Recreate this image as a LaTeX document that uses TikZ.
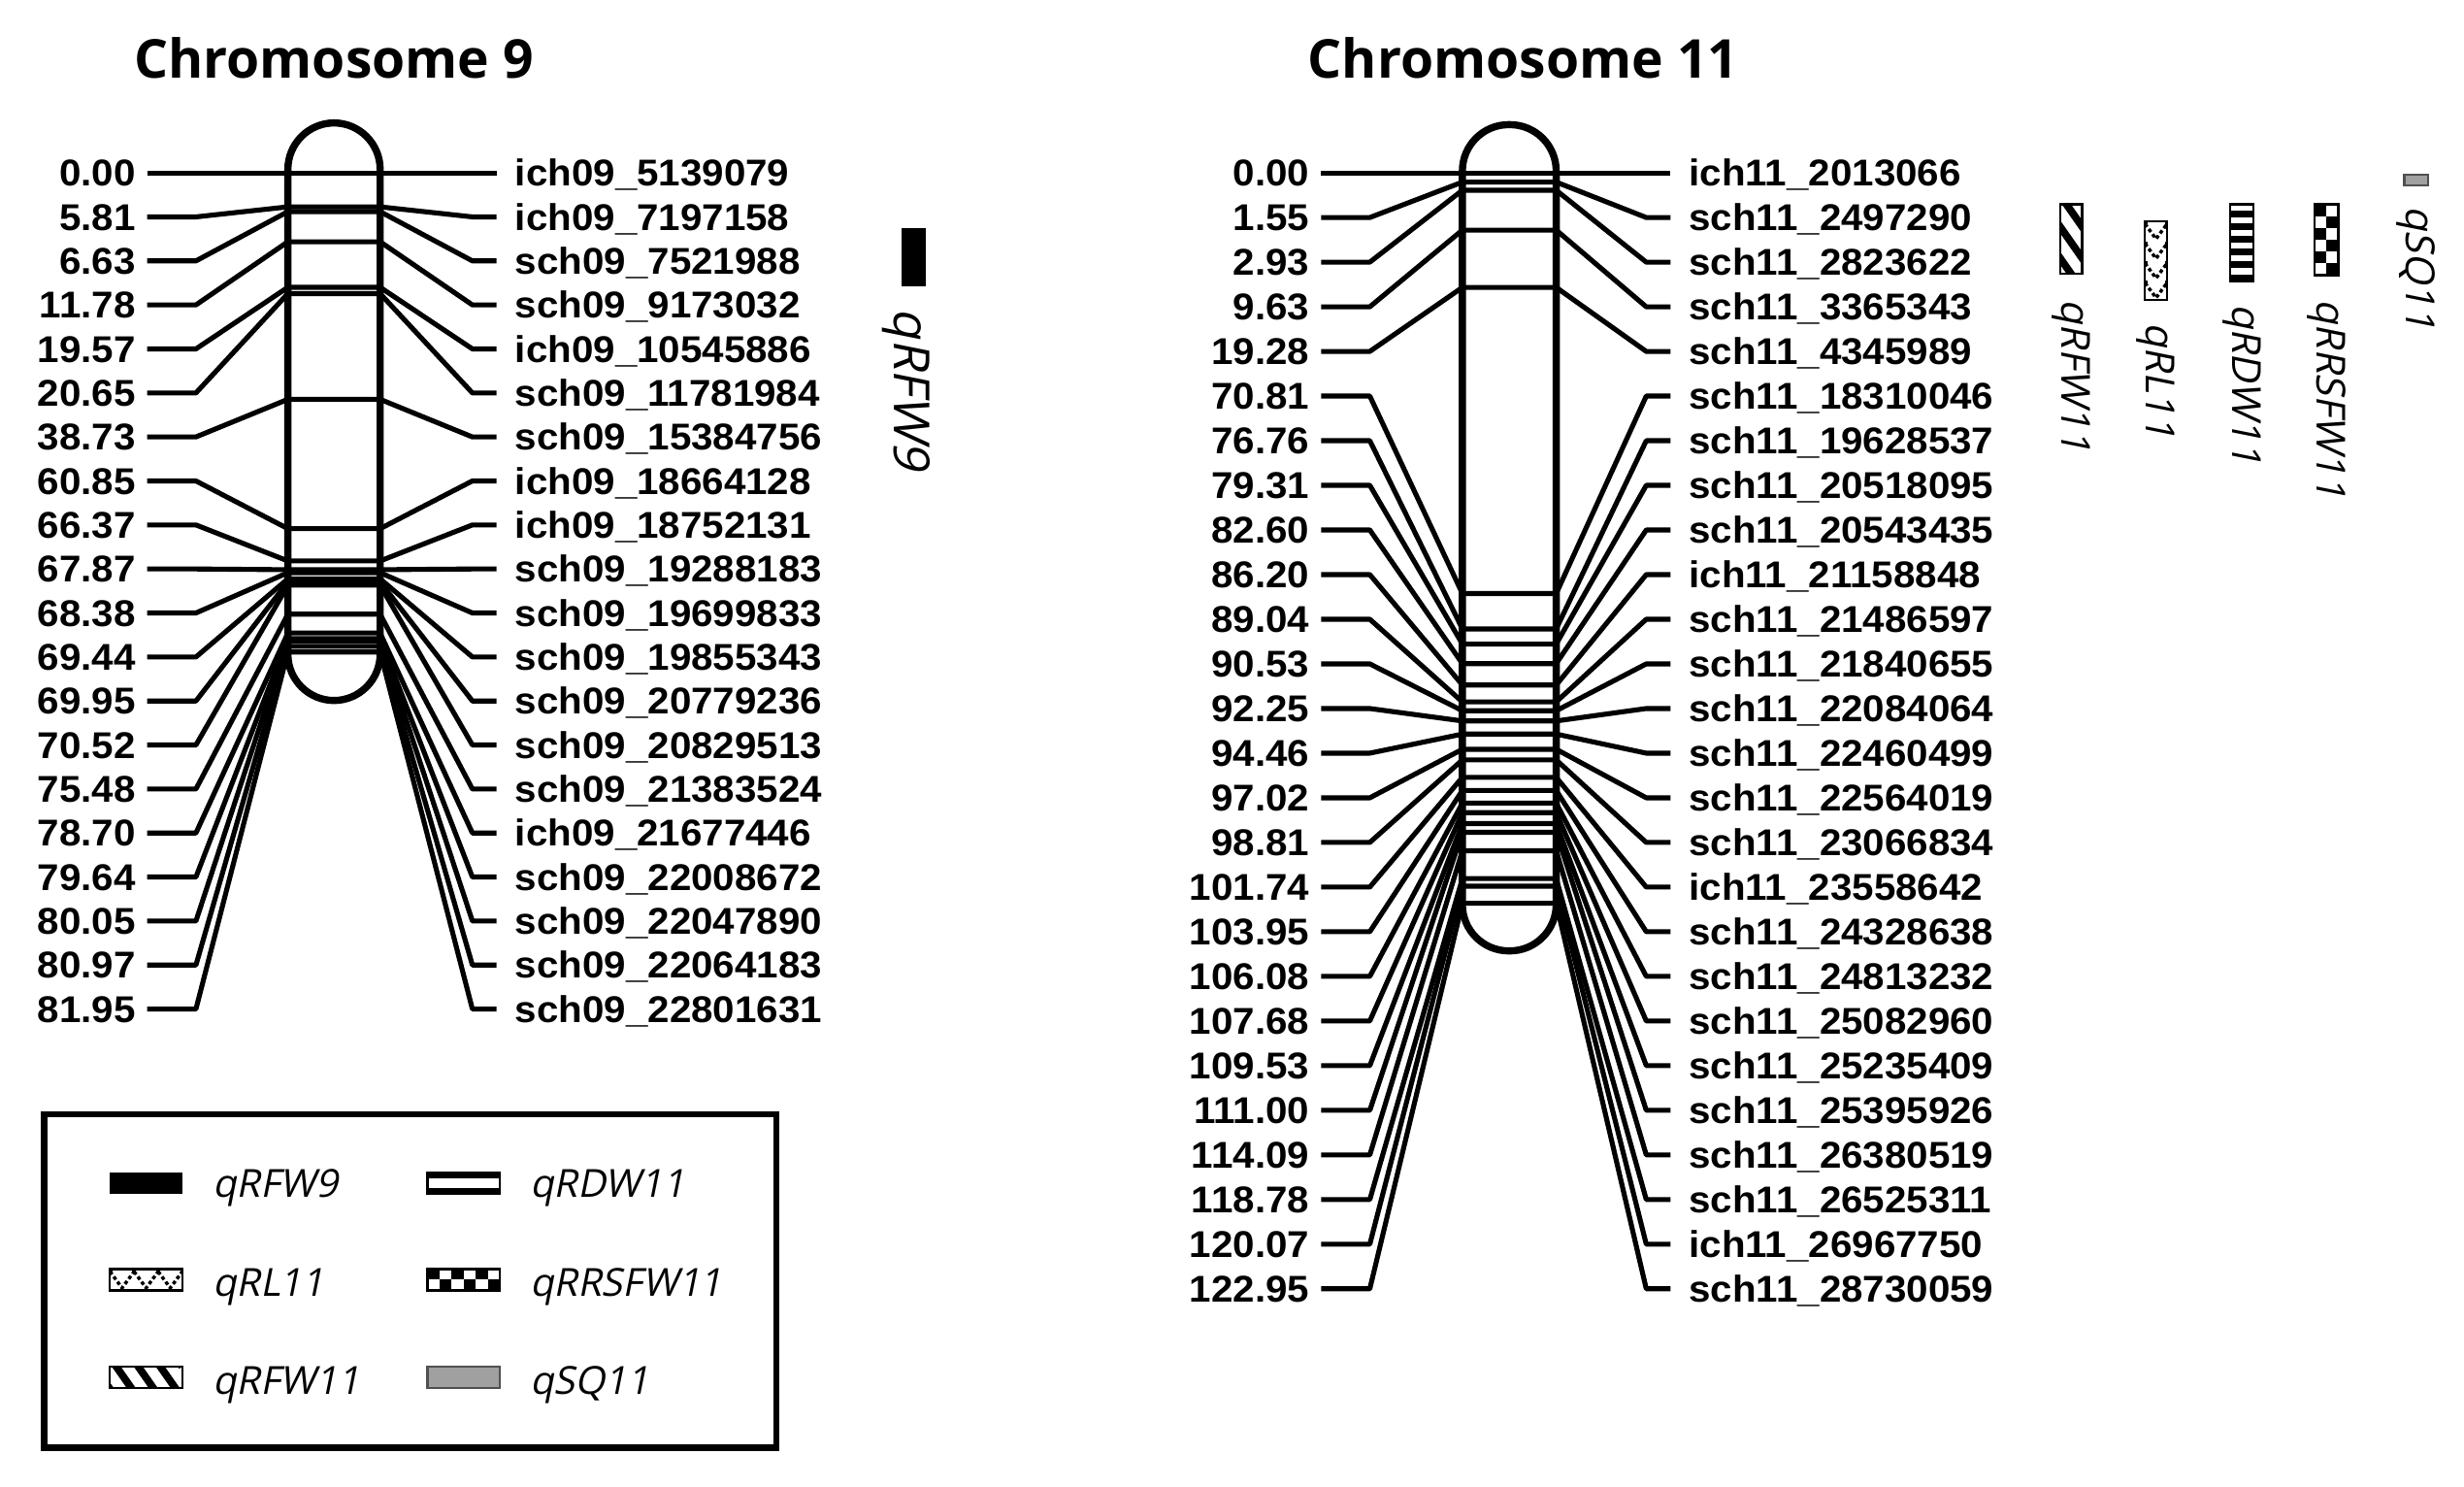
\documentclass[tikz,border=0pt]{standalone}
\usepackage{fontspec}
\newfontfamily\mkfont{Liberation Sans}[FakeStretch=1.05]
\newfontfamily\ttlfont{Open Sans}
\newfontfamily\qfont{Open Sans}[FakeSlant=0.2]
\definecolor{qgray}{RGB}{160,160,160}
\definecolor{qedge}{RGB}{80,80,80}
\tikzset{
 lnk/.style={line width=1.8pt, line join=round},
 chrom/.style={line width=2.6pt, rounded corners=0.59cm},
 num/.style={anchor=east, inner sep=0pt, font=\mkfont\bfseries\fontsize{13.5}{15}\selectfont, text height=9.67pt, text depth=0pt},
 mk/.style={num, anchor=west},
 ttl/.style={anchor=base west, inner sep=0pt, font=\ttlfont\bfseries\fontsize{19.4}{23}\selectfont},
 qlab/.style={rotate=-90, anchor=west, inner sep=0pt, font=\qfont\fontsize{14.5}{16}\selectfont},
 leglab/.style={anchor=base west, inner sep=0pt, font=\qfont\fontsize{14}{16}\selectfont},
 qbox/.style={draw=black, line width=0.8pt},
 legbox/.style={draw=black, line width=2.4pt},
 zig/.style={line width=1.2pt, dash pattern=on 1.3pt off 1pt},
}
\newcommand\qtlDiag[4]{%
  \begin{scope}
    \clip (#1,#2) rectangle (#3,#4);
    \foreach \k in {-6,...,4}{\draw[line width=2.7pt] ({#1-10},{#2+20*\k}) -- ++(56,80);}
  \end{scope}
  \draw[qbox] (#1,#2) rectangle (#3,#4);}
\newcommand\qtlCheck[6]{%
  \begin{scope}
    \clip (#1,#2) rectangle (#3,#4);
    \foreach \i in {0,...,7}{\foreach \j in {0,...,7}{%
      \pgfmathparse{int(mod(\i+\j,2))}%
      \ifnum\pgfmathresult=0 \fill ({#1+#5*\i},{#2+#6*\j}) rectangle ++(#5,#6);\fi}}
  \end{scope}
  \draw[qbox] (#1,#2) rectangle (#3,#4);}
\newcommand\qtlZig[6]{%
  \begin{scope}
    \clip (#1,#2) rectangle (#3,#4);
    \foreach \j in {0,...,4}{\foreach \i in {0,...,4}{%
      \draw[zig] ({#1+2*#5*\i},{#2+#6*\j+1.5}) -- ++(#5,{#6-3}) -- ++(#5,{-(#6-3)});
      \fill ({#1+2*#5*\i-1.4},{#2+#6*\j}) rectangle ++(2.8,2.8);}}
  \end{scope}
  \draw[qbox] (#1,#2) rectangle (#3,#4);}
\begin{document}
\begin{tikzpicture}[x=0.02cm,y=-0.02cm]
\useasboundingbox (0,0) rectangle (1568,946);
\fill[white] (0,0) rectangle (1568,946);
% titles
\node[ttl] (t9) at (85,50) {Chromosome 9};
\node[ttl] (t11) at (832,50) {Chromosome 11};
% chromosome 9
\foreach \c/\nm [count=\i from 0] in {0.00/ich09\_5139079, 5.81/ich09\_7197158, 6.63/sch09\_7521988, 11.78/sch09\_9173032, 19.57/ich09\_10545886, 20.65/sch09\_11781984, 38.73/sch09\_15384756, 60.85/ich09\_18664128, 66.37/ich09\_18752131, 67.87/sch09\_19288183, 68.38/sch09\_19699833, 69.44/sch09\_19855343, 69.95/sch09\_20779236, 70.52/sch09\_20829513, 75.48/sch09\_21383524, 78.70/ich09\_21677446, 79.64/sch09\_22008672, 80.05/sch09\_22047890, 80.97/sch09\_22064183, 81.95/sch09\_22801631}{
  \pgfmathsetmacro{\ly}{110+28*\i}
  \pgfmathsetmacro{\by}{110+3.72*\c}
  \node[num] (a9-\i) at (86.5,\ly) {\c};
  \node[mk] (b9-\i) at (327.5,\ly) {\nm};
  \draw[lnk] ([xshift=0.144cm]a9-\i.east) -- ++(31,0) -- (183.2,\by) -- (241.9,\by) -- ([xshift=-0.538cm]b9-\i.west) -- ([xshift=-0.23cm]b9-\i.west);
}
\draw[chrom] (183.2,78.2) rectangle (241.9,445.7);
% chromosome 11
\foreach \c/\nm [count=\i from 0] in {0.00/ich11\_2013066, 1.55/sch11\_2497290, 2.93/sch11\_2823622, 9.63/sch11\_3365343, 19.28/sch11\_4345989, 70.81/sch11\_18310046, 76.76/sch11\_19628537, 79.31/sch11\_20518095, 82.60/sch11\_20543435, 86.20/ich11\_21158848, 89.04/sch11\_21486597, 90.53/sch11\_21840655, 92.25/sch11\_22084064, 94.46/sch11\_22460499, 97.02/sch11\_22564019, 98.81/sch11\_23066834, 101.74/ich11\_23558642, 103.95/sch11\_24328638, 106.08/sch11\_24813232, 107.68/sch11\_25082960, 109.53/sch11\_25235409, 111.00/sch11\_25395926, 114.09/sch11\_26380519, 118.78/sch11\_26525311, 120.07/ich11\_26967750, 122.95/sch11\_28730059}{
  \pgfmathsetmacro{\ly}{110+28.4*\i}
  \pgfmathsetmacro{\by}{110+3.78*\c}
  \node[num] (a11-\i) at (833.5,\ly) {\c};
  \node[mk] (b11-\i) at (1074.5,\ly) {\nm};
  \draw[lnk] ([xshift=0.144cm]a11-\i.east) -- ++(31,0) -- (930.6,\by) -- (990.3,\by) -- ([xshift=-0.538cm]b11-\i.west) -- ([xshift=-0.23cm]b11-\i.west);
}
\draw[chrom] (930.6,79.3) rectangle (990.3,605);
% QTL chr9
\fill (574,145) rectangle (589,182);
\node[qlab, font=\qfont\fontsize{18}{20}\selectfont] (lq9) at (577,196) {qRFW9};
% QTL chr11
\qtlDiag{1311}{130}{1325}{174}
\node[qlab] (lq11a) at (1318,190) {qRFW11};
\qtlZig{1365}{141}{1379}{191}{7}{12.5}
\node[qlab] (lq11b) at (1372,205) {qRL11};
\foreach \k in {0,...,5}{\fill (1419,{134+8.1*\k}) rectangle (1434,{138.3+8.1*\k});}
\draw[qbox] (1419,130) rectangle (1434,179);
\node[qlab] (lq11c) at (1426.5,193) {qRDW11};
\qtlCheck{1473}{130}{1488}{175}{7.5}{7.5}
\node[qlab] (lq11d) at (1480.5,190) {qRRSFW11};
\draw[qbox, draw=qedge, fill=qgray] (1530,111) rectangle (1545,118);
\node[qlab] (lq11e) at (1537.5,131) {qSQ11};
% legend
\draw[legbox] (28,709) rectangle (494,921);
\fill (70,746) rectangle (116,759.5);
\node[leglab] (g1) at (135,761.5) {qRFW9};
\fill (272,746) rectangle (318,749.8);
\fill (272,755.7) rectangle (318,759.5);
\draw[qbox] (272,746) rectangle (318,759.5);
\node[leglab] (g2) at (337,761.5) {qRDW11};
\qtlZig{70}{807.5}{116}{821}{7.67}{13.5}
\node[leglab] (g3) at (135,825) {qRL11};
\qtlCheck{272}{807.5}{318}{821}{7.67}{6.75}
\node[leglab] (g4) at (337,825) {qRRSFW11};
\qtlDiag{70}{869.5}{116}{883}
\node[leglab] (g5) at (135,887) {qRFW11};
\draw[qbox, draw=qedge, fill=qgray] (272,869.5) rectangle (318,883);
\node[leglab] (g6) at (337,887) {qSQ11};
\end{tikzpicture}
\end{document}
